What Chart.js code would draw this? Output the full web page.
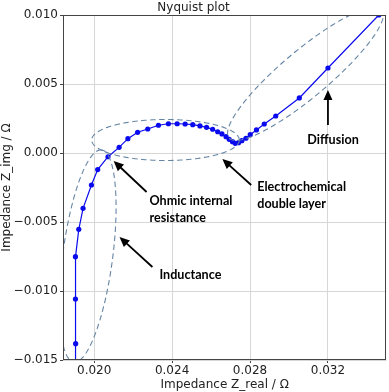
<!DOCTYPE html>
<html>
<head>
<meta charset="utf-8">
<script src="https://cdn.jsdelivr.net/npm/chart.js@4/dist/chart.umd.min.js"></script>
<style>
html,body{margin:0;padding:0;background:#fff;}
#wrap{width:389px;height:392px;}
</style>
</head>
<body>
<div id="wrap"><canvas id="c" width="389" height="392"></canvas></div>
<script>
// ---- data ----
const realZ = [0.01906, 0.01905, 0.01904, 0.01904, 0.01921, 0.01943, 0.01986, 0.02018, 0.02071, 0.02128,
  0.02173, 0.02223, 0.02275, 0.02330, 0.02381, 0.02426, 0.02467, 0.02506, 0.02543, 0.02577,
  0.02608, 0.02634, 0.02656, 0.02677, 0.02693, 0.02710, 0.02724, 0.02741, 0.02758, 0.02779,
  0.02801, 0.02833, 0.02873, 0.02932, 0.03053, 0.03200, 0.03461];
const imagZ = [-0.0172, -0.01382, -0.01058, -0.00751, -0.00553, -0.00401, -0.00232, -0.00120, -0.00027, 0.00041,
  0.00104, 0.00150, 0.00174, 0.00201, 0.00212, 0.00212, 0.00210, 0.00205, 0.00196, 0.00186,
  0.00172, 0.00154, 0.00138, 0.00118, 0.00099, 0.00082, 0.00070, 0.00075, 0.00089, 0.00107,
  0.00133, 0.00167, 0.00210, 0.00268, 0.00399, 0.00616, 0.01000];
const xTicks = [0.020, 0.024, 0.028, 0.032];
const yTicks = [-0.015, -0.010, -0.005, 0.000, 0.005, 0.010];
const xRange = [0.0184, 0.0350];
const yRange = [-0.015, 0.010];
const titleText = 'Nyquist plot';
const xTitle = 'Impedance Z_real / Ω';
const yTitle = 'Impedance Z_img / Ω';

// ---- annotations (data coordinates) ----
const ellipses = [
  {c:[0.02366, 0.000942], a:[0.02745, 0.000942], b:[0.02366, 0.002428]},
  {c:[0.03085, 0.005746], a:[0.03478, 0.01040], b:[0.03162, 0.004442]},
  {c:[0.01967, -0.007464], a:[0.02038, 0.000225], b:[0.02094, -0.007703]}
];
const arrows = [
  {from:[0.03200, 0.00203], to:[0.03200, 0.004565]},
  {from:[0.02806, -0.00232], to:[0.02658, -0.000435]},
  {from:[0.02269, -0.002826], to:[0.02100, -0.00058]},
  {from:[0.02299, -0.00826], to:[0.02130, -0.006087]}
];
const labels = [
  {at:[0.03226, 0.000942], lines:['Diffusion'], align:'center'},
  {at:[0.02837, -0.002464], lines:['Electrochemical','double layer'], align:'left'},
  {at:[0.02284, -0.003478], lines:['Ohmic internal','resistance'], align:'left'},
  {at:[0.02335, -0.00884], lines:['Inductance'], align:'left'}
];

const fmt = v => {
  const s = Number(v).toFixed(3);
  return s.startsWith('-') ? '\u2212' + s.slice(1) : s;
};

const framePlugin = {
  id: 'frame',
  afterDatasetsDraw(chart) {
    const {ctx, chartArea: ca, scales} = chart;
    const xs = scales.x, ys = scales.y;
    const P = p => [xs.getPixelForValue(p[0]), ys.getPixelForValue(p[1])];
    // ellipses
    ctx.save();
    ctx.beginPath();
    ctx.rect(ca.left, ca.top, ca.right - ca.left, ca.bottom - ca.top);
    ctx.clip();
    ctx.strokeStyle = '#6585a5';
    ctx.lineWidth = 1.1;
    ctx.setLineDash([5.5, 3.5]);
    ellipses.forEach(e => {
      const c = P(e.c), a = P(e.a), b = P(e.b);
      const ax = a[0]-c[0], ay = a[1]-c[1], bx = b[0]-c[0], by = b[1]-c[1];
      ctx.beginPath();
      const n = 180;
      for (let i = 0; i <= n; i++) {
        const t = i / n * Math.PI * 2;
        const x = c[0] + Math.cos(t)*ax + Math.sin(t)*bx;
        const y = c[1] + Math.cos(t)*ay + Math.sin(t)*by;
        if (i === 0) ctx.moveTo(x, y); else ctx.lineTo(x, y);
      }
      ctx.stroke();
    });
    ctx.restore();
    // frame
    ctx.save();
    ctx.strokeStyle = '#444';
    ctx.lineWidth = 1;
    ctx.strokeRect(Math.round(ca.left)+0.5, Math.round(ca.top)+0.5, Math.round(ca.right-ca.left)-1, Math.round(ca.bottom-ca.top)-1);
    ctx.restore();
    // arrows
    ctx.save();
    ctx.strokeStyle = '#000';
    ctx.fillStyle = '#000';
    ctx.lineWidth = 1.8;
    arrows.forEach(ar => {
      const f = P(ar.from), t = P(ar.to);
      const dx = t[0]-f[0], dy = t[1]-f[1];
      const L = Math.hypot(dx, dy), ux = dx/L, uy = dy/L;
      const hl = 10, hw = 4.5;
      ctx.beginPath();
      ctx.moveTo(f[0], f[1]);
      ctx.lineTo(t[0]-ux*hl*0.8, t[1]-uy*hl*0.8);
      ctx.stroke();
      ctx.beginPath();
      ctx.moveTo(t[0], t[1]);
      ctx.lineTo(t[0]-ux*hl - uy*hw, t[1]-uy*hl + ux*hw);
      ctx.lineTo(t[0]-ux*hl + uy*hw, t[1]-uy*hl - ux*hw);
      ctx.closePath();
      ctx.fill();
    });
    // labels
    ctx.font = 'bold 12.6px Lato, "Open Sans", sans-serif';
    ctx.textBaseline = 'middle';
    labels.forEach(lb => {
      const p = P(lb.at);
      ctx.textAlign = lb.align;
      lb.lines.forEach((s, i) => ctx.fillText(s, p[0], p[1] + i*17));
    });
    ctx.restore();
  }
};

const pts = realZ.map((x, i) => ({x, y: imagZ[i]}));
const tickFont = {family: '"DejaVu Sans", sans-serif', size: 12};

new Chart(document.getElementById('c'), {
  type: 'scatter',
  data: {datasets: [{
    data: pts, showLine: true, borderColor: '#0a0aee', backgroundColor: '#0a0aee',
    borderWidth: 1.2, pointRadius: 2.6, pointHoverRadius: 2.6, pointBorderWidth: 0, tension: 0
  }]},
  options: {
    responsive: false, animation: false, devicePixelRatio: 1,
    layout: {padding: {left: 0, right: 2, top: 0, bottom: 0}},
    events: [],
    plugins: {
      legend: {display: false},
      tooltip: {enabled: false},
      title: {display: true, text: titleText, color: '#222',
        font: {family: '"DejaVu Sans", sans-serif', size: 12, weight: 'normal', lineHeight: 1.0},
        padding: {top: 2, bottom: 1}}
    },
    scales: {
      x: {
        type: 'linear', min: xRange[0], max: xRange[1],
        afterBuildTicks: s => { s.ticks = xTicks.map(v => ({value: v})); },
        afterFit: s => { s.height = 32; },
        ticks: {callback: v => fmt(v), font: tickFont, color: '#222', maxRotation: 0, autoSkip: false, padding: 1},
        grid: {color: '#d6d6d6', lineWidth: 1, tickLength: 3, tickColor: '#444', drawTicks: true},
        border: {display: false},
        title: {display: true, text: xTitle, color: '#222', font: tickFont, padding: {top: 0, bottom: 0}}
      },
      y: {
        type: 'linear', min: yRange[0], max: yRange[1],
        afterBuildTicks: s => { s.ticks = yTicks.map(v => ({value: v})); },
        afterFit: s => { s.width = 63; },
        ticks: {callback: v => fmt(v), font: tickFont, color: '#222', autoSkip: false, padding: 2},
        grid: {color: '#d6d6d6', lineWidth: 1, tickLength: 3, tickColor: '#444', drawTicks: true},
        border: {display: false},
        title: {display: true, text: yTitle, color: '#222', font: tickFont, padding: {top: 0, bottom: 0}}
      }
    }
  },
  plugins: [framePlugin]
});
</script>
</body>
</html>
